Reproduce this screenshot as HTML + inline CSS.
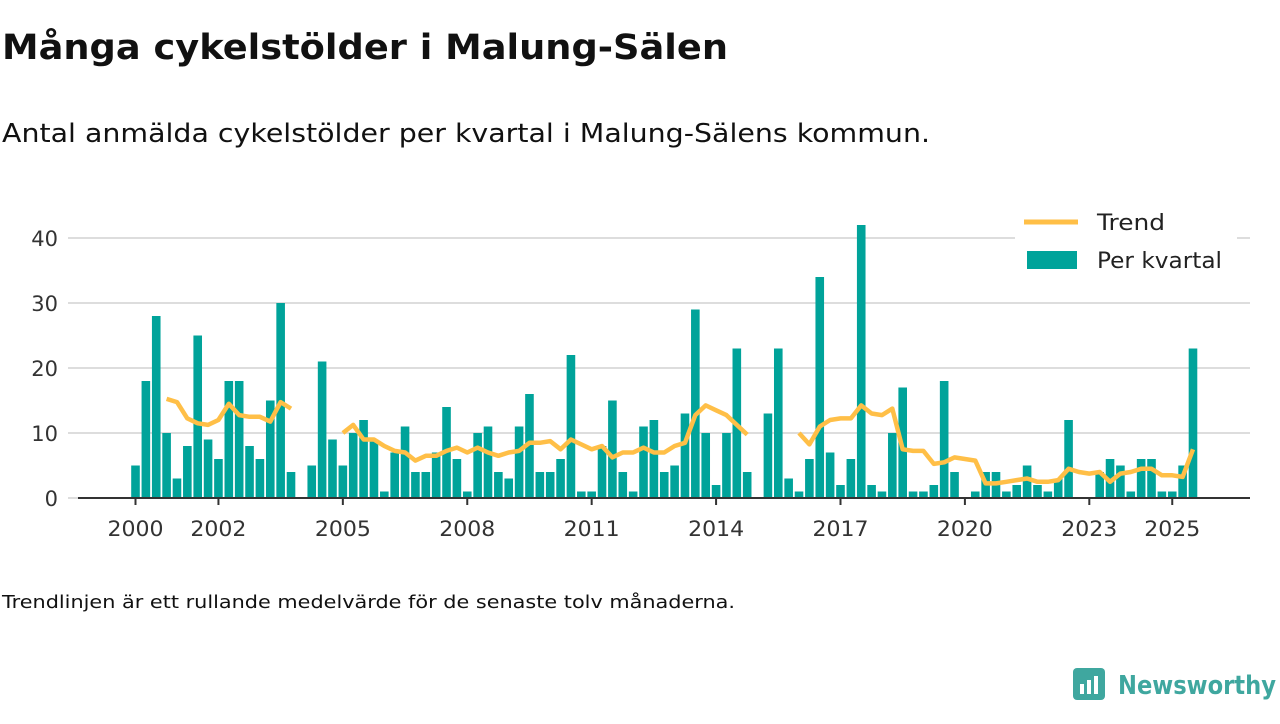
<!DOCTYPE html>
<html><head><meta charset="utf-8"><style>
body{margin:0;background:#fff;width:1280px;height:720px;overflow:hidden;font-family:"DejaVu Sans","Liberation Sans",sans-serif;color:#111}
</style></head><body>
<svg width="1280" height="720" xmlns="http://www.w3.org/2000/svg" font-family="DejaVu Sans, Liberation Sans, sans-serif">
<text x="2" y="59" font-size="35" font-weight="bold" fill="#111" textLength="726" lengthAdjust="spacingAndGlyphs">Många cykelstölder i Malung-Sälen</text>
<text x="2" y="142" font-size="26" fill="#111" textLength="928" lengthAdjust="spacingAndGlyphs">Antal anmälda cykelstölder per kvartal i Malung-Sälens kommun.</text>
<g id="grid"></g><g id="bars"></g><g id="trend"></g><g id="axis"></g>
<g>
<rect x="1015" y="205" width="222" height="78" fill="#fff"/>
<line x1="1024" y1="222" x2="1078" y2="222" stroke="#ffbf47" stroke-width="5"/>
<text x="1097" y="230" font-size="22" fill="#222" textLength="68" lengthAdjust="spacingAndGlyphs">Trend</text>
<rect x="1027" y="251" width="50" height="18" fill="#00a39a"/>
<text x="1097" y="268" font-size="22" fill="#222" textLength="125" lengthAdjust="spacingAndGlyphs">Per kvartal</text>
</g>
<text x="2" y="608" font-size="18" fill="#111" textLength="733" lengthAdjust="spacingAndGlyphs">Trendlinjen är ett rullande medelvärde för de senaste tolv månaderna.</text>
<g>
<rect x="1073" y="668" width="32" height="32" rx="4" fill="#3fa79f"/>
<rect x="1080" y="684" width="4" height="10" fill="#fff"/><rect x="1087" y="680" width="4" height="14" fill="#fff"/><rect x="1094" y="676" width="4" height="18" fill="#fff"/>
<text x="1118" y="694" font-size="26" font-weight="bold" fill="#3fa79f" textLength="158" lengthAdjust="spacingAndGlyphs">Newsworthy</text>
</g>
</svg>
<script>
const years=[2000,2001,2002,2003,2004,2005,2006,2007,2008,2009,2010,2011,2012,2013,2014,2015,2016,2017,2018,2019,2020,2021,2022,2023,2024,2025];
const perKvartal=[5,18,28,10, 3,8,25,9, 6,18,18,8, 6,15,30,4, null,5,21,9, 5,10,12,9, 1,7,11,4, 4,7,14,6, 1,10,11,4, 3,11,16,4, 4,6,22,1, 1,8,15,4, 1,11,12,4, 5,13,29,10, 2,10,23,4, null,13,23,3, 1,6,34,7, 2,6,42,2, 1,10,17,1, 1,2,18,4, 0,1,4,4, 1,2,5,2, 1,3,12,0, 0,4,6,5, 1,6,6,1, 1,5,23];
const yTicks=[0,10,20,30,40];
const xTickLabels=[2000,2002,2005,2008,2011,2014,2017,2020,2023,2025];
const NS="http://www.w3.org/2000/svg";
const x=t=>135.5+(t-2000)*41.47;
const y=v=>498-v*6.5;
function mk(tag,attrs,parent){const e=document.createElementNS(NS,tag);for(const k in attrs)e.setAttribute(k,attrs[k]);document.getElementById(parent).appendChild(e);return e;}
yTicks.forEach(v=>{
 const l=mk('line',{x1:68,x2:1250,y1:y(v),y2:y(v),stroke:'#ddd','stroke-width':2},'grid');
 
 
 const t=mk('text',{x:58,y:y(v)+8,'font-size':21,'text-anchor':'end',fill:'#333'},'grid');
 t.textContent=v;
 
 
});
perKvartal.forEach((v,i)=>{
 if(v===null||v===0)return;
 const cx=x(2000+i/4);
 const r=mk('rect',{x:cx-4.3,y:y(v),width:8.6,height:v*6.5,fill:'#00a39a'},'bars');
 
 
});
// trend: rolling mean of last 4 quarters
let segs=[],cur=[];
perKvartal.forEach((v,i)=>{
 if(i<3){return;}
 const w=perKvartal.slice(i-3,i+1);
 if(w.some(a=>a===null)){if(cur.length)segs.push(cur);cur=[];return;}
 const m=w.reduce((a,b)=>a+b,0)/4;
 cur.push(x(2000+i/4).toFixed(1)+','+y(m).toFixed(1));
});
if(cur.length)segs.push(cur);
segs.forEach(s=>{
 const p=mk('polyline',{points:s.join(' '),fill:'none',stroke:'#ffbf47','stroke-width':4.5,'stroke-linejoin':'round'},'trend');
 
 
});
const ax=mk('line',{x1:78,x2:1250,y1:498,y2:498,stroke:'#333','stroke-width':2},'axis');


xTickLabels.forEach(yr=>{
 const tk=mk('line',{x1:x(yr),x2:x(yr),y1:498,y2:505,stroke:'#333','stroke-width':2},'axis');
 
 
 const t=mk('text',{x:x(yr),y:536,'font-size':21,'text-anchor':'middle',fill:'#333',textLength:56,lengthAdjust:'spacingAndGlyphs'},'axis');
 t.textContent=yr;
 
 
});
</script>
</body></html>
